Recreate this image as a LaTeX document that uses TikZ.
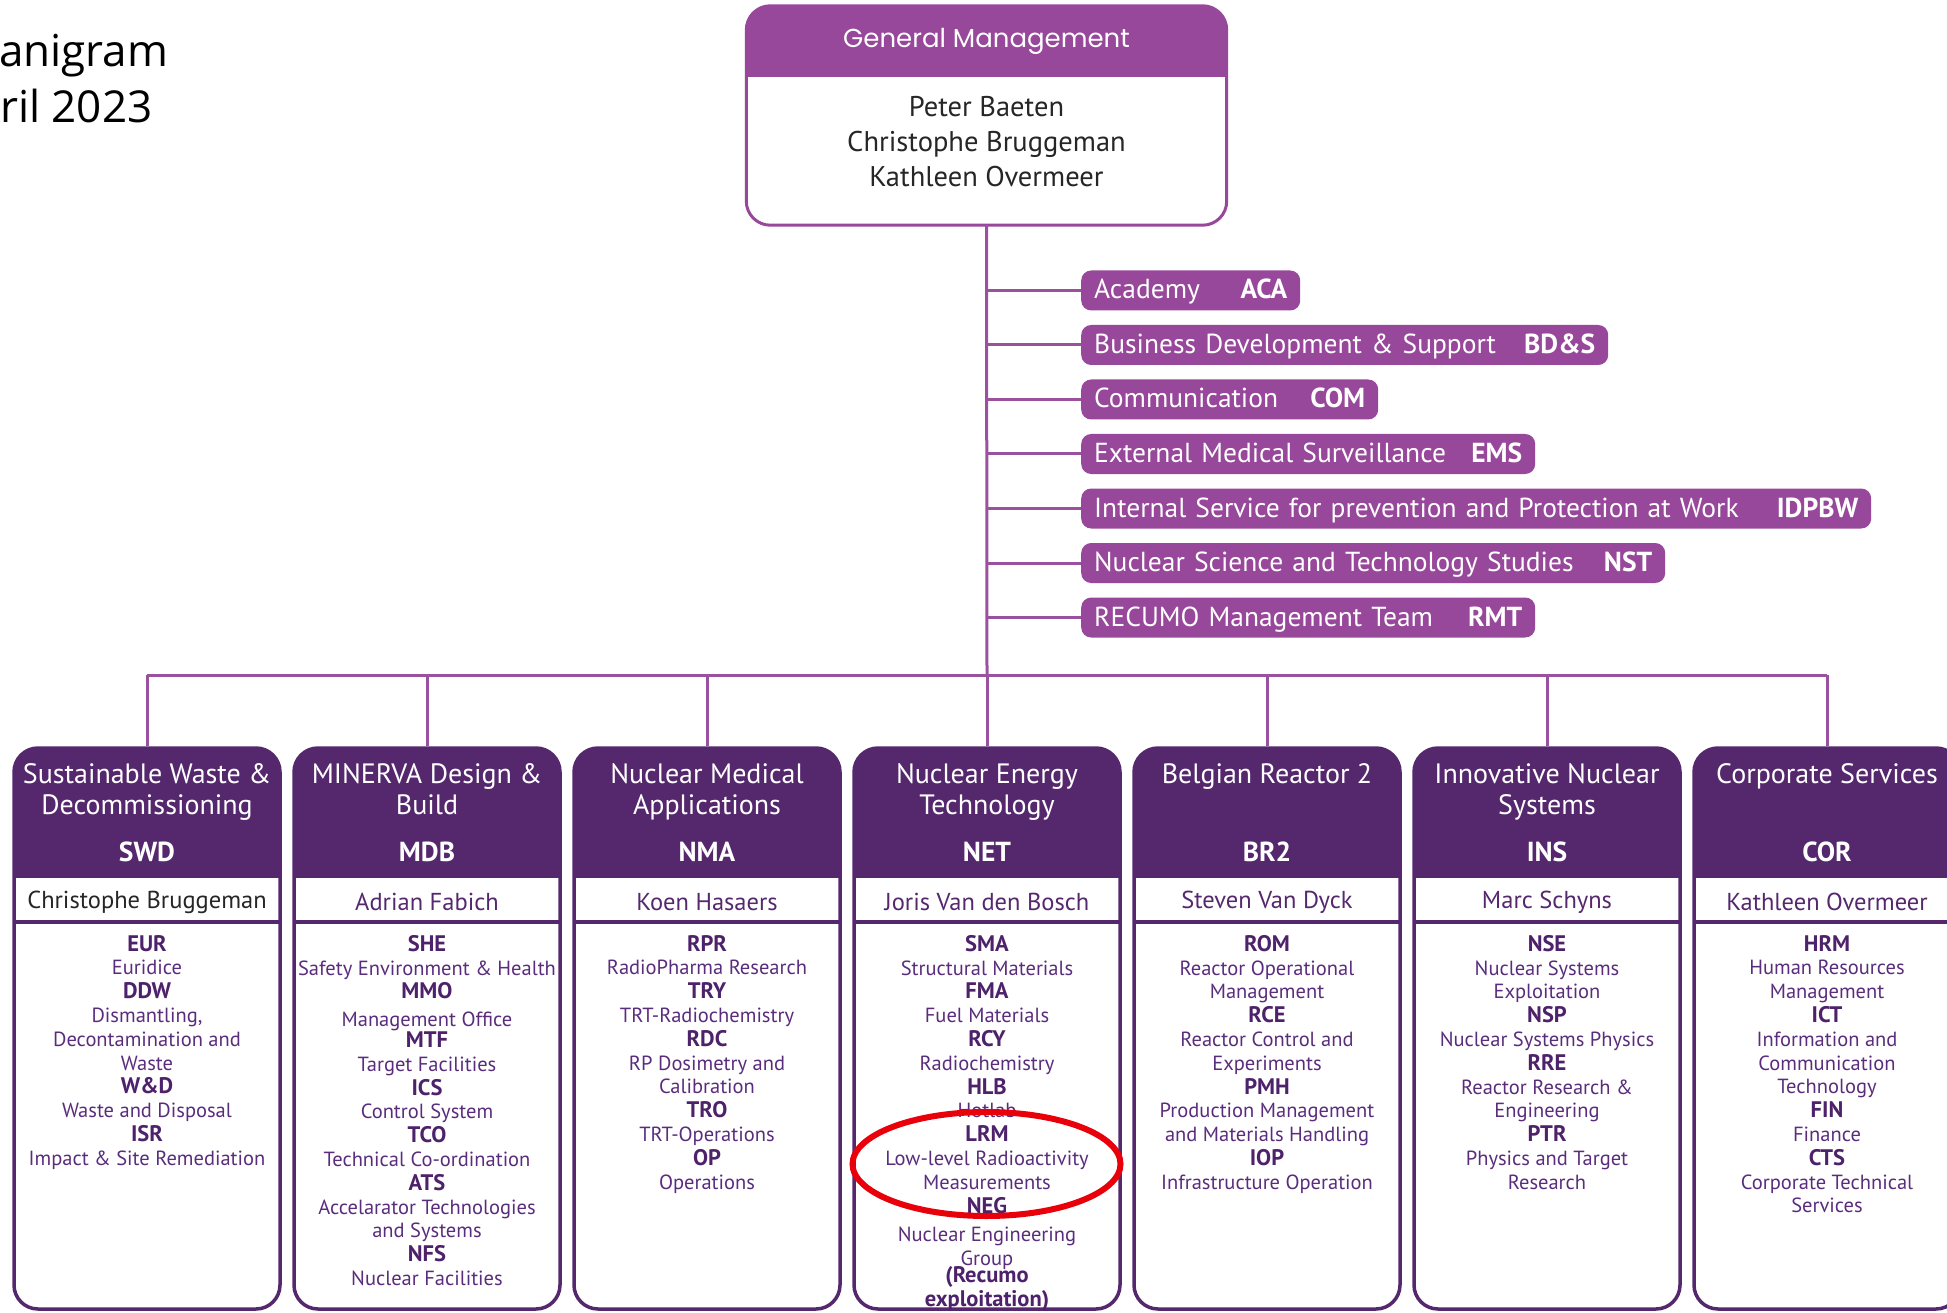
\documentclass[tikz,border=0pt]{standalone}
\usepackage{fontspec}
\setmainfont{PT Sans}
\newfontfamily\ttlfont{Open Sans}
\newfontfamily\gmfont{Poppins}
\definecolor{midp}{RGB}{152,72,155}
\definecolor{darkp}{RGB}{85,40,110}
\definecolor{txtp}{RGB}{90,44,124}
\definecolor{abp}{RGB}{78,34,106}
\definecolor{linep}{RGB}{155,80,160}
\definecolor{redc}{RGB}{232,0,10}
\newcommand\ab[1]{{\fontsize{22.5}{23.8}\selectfont\bfseries\color{abp}#1}}
\newcommand\orgcol[7]{%
  \begin{scope}
    \clip[rounded corners=24pt] (#2-133,748) rectangle (#2+133,1309);
    \fill[darkp] (#2-133,748) rectangle (#2+133,878);
  \end{scope}
  \node[colframe] (#1) at (#2,1028.5) {};
  \draw[darkp, line width=4pt] (#2-133,922) -- (#2+133,922);
  \node[coltitle] (#1t) at (#2,763) {#3};
  \node[colabbr] (#1a) at (#2,852) {#4};
  \node[colname, text=#7] (#1n) at (#2,902) {#5};
  \node[colbody] (#1b) at (#2,935) {#6};
}
\newcommand\sidebx[5]{%
  \pgfmathsetmacro\sbw{#3-1081-26}%
  \node[sidebox, text width=\sbw pt] (#1) at (1081,#2) {#4\hfill\textbf{#5}};
}
\begin{document}
\begin{tikzpicture}[x=1pt,y=-1pt,
  conn/.style={draw=linep, line width=3pt},
  colframe/.style={draw=darkp, line width=3.5pt, rounded corners=24pt, minimum width=266pt, minimum height=561pt, inner sep=0pt},
  coltitle/.style={text=white, font=\fontsize{28}{31}\selectfont, align=center, anchor=north, inner sep=0pt},
  colabbr/.style={text=white, font=\fontsize{27.5}{30}\selectfont\bfseries, inner sep=0pt},
  colname/.style={font=\fontsize{24.5}{28}\selectfont, inner sep=0pt},
  colbody/.style={text=txtp, font=\fontsize{20.5}{23.8}\selectfont, align=center, anchor=north, inner sep=0pt},
  sidebox/.style={fill=midp, rounded corners=10pt, text=white, anchor=west, minimum height=40pt, inner xsep=13pt, inner ysep=0pt, text height=21pt, text depth=4pt, font=\fontsize{27.5}{30}\selectfont, align=left},
]
\useasboundingbox (0,0) rectangle (1947,1313);

% title (cut off at the left edge)
\node[anchor=base west, inner sep=0pt, font=\ttlfont\fontsize{44}{50}\selectfont] (ttl1) at (-1,67) {anigram};
\node[anchor=base west, inner sep=0pt, font=\ttlfont\fontsize{44}{50}\selectfont] (ttl2) at (0,123) {ril 2023};

% general management
\node[minimum width=480pt, minimum height=219pt, inner sep=0pt] (gm) at (986.5,115.5) {};
\begin{scope}
  \clip[rounded corners=24pt] (gm.north west) rectangle (gm.south east);
  \fill[midp] (gm.north west) rectangle (1226.5,77);
\end{scope}
\draw[midp, line width=3pt, rounded corners=24pt] (gm.north west) rectangle (gm.south east);
\node[text=white, font=\gmfont\fontsize{26}{28}\selectfont, inner sep=0pt] (gmt) at (986.5,41) {General Management};
\node[text=black!85, font=\fontsize{28.5}{35}\selectfont, align=center, inner sep=0pt] (gmn) at (986.5,142) {Peter Baeten\\Christophe Bruggeman\\Kathleen Overmeer};

% staff boxes
\sidebx{aca}{290.5}{1300}{Academy}{ACA}
\sidebx{bds}{345}{1608}{Business Development \& Support}{BD\&S}
\sidebx{com}{399.5}{1378}{Communication}{COM}
\sidebx{ems}{454}{1535}{External Medical Surveillance}{EMS}
\sidebx{idp}{508.5}{1871}{Internal Service for prevention and Protection at Work}{IDPBW}
\sidebx{nst}{563}{1665}{Nuclear Science and Technology Studies}{NST}
\sidebx{rmt}{617.5}{1535}{RECUMO Management Team}{RMT}

% columns
\orgcol{swd}{147}{Sustainable Waste \&\\Decommissioning}{SWD}{Christophe Bruggeman}{%
\ab{EUR}\\Euridice\\\ab{DDW}\\Dismantling,\\Decontamination and\\Waste\\\ab{W\&D}\\Waste and Disposal\\\ab{ISR}\\Impact \& Site Remediation}{black!85}
\orgcol{mdb}{427}{MINERVA Design \&\\Build}{MDB}{Adrian Fabich}{%
\ab{SHE}\\Safety Environment \& Health\\\ab{MMO}\\[4pt]Management Office\\[-3pt]\ab{MTF}\\Target Facilities\\\ab{ICS}\\Control System\\\ab{TCO}\\Technical Co-ordination\\\ab{ATS}\\Accelarator Technologies\\and Systems\\\ab{NFS}\\Nuclear Facilities}{darkp}
\orgcol{nma}{707}{Nuclear Medical\\Applications}{NMA}{Koen Hasaers}{%
\ab{RPR}\\RadioPharma Research\\\ab{TRY}\\TRT-Radiochemistry\\\ab{RDC}\\RP Dosimetry and\\Calibration\\\ab{TRO}\\TRT-Operations\\\ab{OP}\\Operations}{darkp}
\orgcol{net}{987}{Nuclear Energy\\Technology}{NET}{Joris Van den Bosch}{%
\ab{SMA}\\Structural Materials\\\ab{FMA}\\Fuel Materials\\\ab{RCY}\\Radiochemistry\\\ab{HLB}\\Hotlab\\\ab{LRM}\\Low-level Radioactivity\\Measurements\\\ab{NEG}\\[5pt]Nuclear Engineering\\Group\\[-7pt]\ab{(Recumo}\\\ab{exploitation)}}{darkp}
\orgcol{br}{1267}{Belgian Reactor 2}{BR2}{Steven Van Dyck}{%
\ab{ROM}\\Reactor Operational\\Management\\\ab{RCE}\\Reactor Control and\\Experiments\\\ab{PMH}\\Production Management\\and Materials Handling\\\ab{IOP}\\Infrastructure Operation}{darkp}
\orgcol{ins}{1547}{Innovative Nuclear\\Systems}{INS}{Marc Schyns}{%
\ab{NSE}\\Nuclear Systems\\Exploitation\\\ab{NSP}\\Nuclear Systems Physics\\\ab{RRE}\\Reactor Research \&\\Engineering\\\ab{PTR}\\Physics and Target\\Research}{darkp}
\orgcol{cor}{1827}{Corporate Services}{COR}{Kathleen Overmeer}{%
\ab{HRM}\\Human Resources\\Management\\\ab{ICT}\\Information and\\Communication\\Technology\\\ab{FIN}\\Finance\\\ab{CTS}\\Corporate Technical\\Services}{darkp}

% connectors
\coordinate (bus) at (987,675);
\draw[conn] (gm.south) -- (bus);
\foreach \s in {aca,bds,com,ems,idp,nst,rmt}
  \draw[conn] (gm.south |- \s.west) -- (\s.west);
\draw[conn] (swd.north |- bus) -- (cor.north |- bus);
\foreach \c in {swd,mdb,nma,net,br,ins,cor}
  \draw[conn] (\c.north |- bus) -- (\c.north);

% highlight
\draw[redc, line width=6pt] (986.5,1164) ellipse [x radius=134, y radius=52];
\end{tikzpicture}
\end{document}
